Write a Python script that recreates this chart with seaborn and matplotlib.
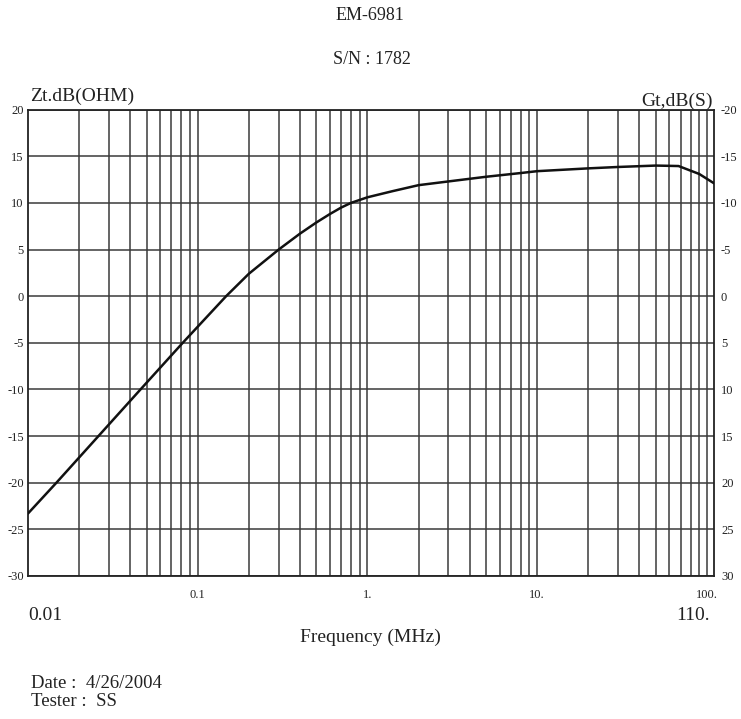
import matplotlib
matplotlib.use("Agg")
import matplotlib.pyplot as plt
import matplotlib.ticker as mticker
import numpy as np
import pandas as pd
import seaborn as sns

# ---- data ----
freq_mhz = [0.01, 0.0147, 0.026, 0.046, 0.0816, 0.147, 0.2, 0.3, 0.4, 0.5, 0.6,
            0.7, 0.8, 1.0, 1.4, 2.0, 3.0, 5.0, 8.0, 10.0, 20.0, 30.0, 50.0, 68.0,
            90.0, 110.0]
zt_db = [-23.3, -20.0, -15.0, -10.0, -5.0, 0.0, 2.4, 5.0, 6.7, 7.9, 8.8,
         9.5, 10.0, 10.6, 11.25, 11.9, 12.3, 12.8, 13.2, 13.4, 13.7, 13.85, 14.0, 13.95,
         13.1, 12.1]

zt_ticks = [20, 15, 10, 5, 0, -5, -10, -15, -20, -25, -30]
gt_ticks = [-20, -15, -10, -5, 0, 5, 10, 15, 20, 25, 30]
x_major = [0.1, 1, 10, 100]
x_major_labels = ["0.1", "1.", "10.", "100."]

df = pd.DataFrame({"freq": freq_mhz, "zt": zt_db})

sns.set_style("white")
plt.rcParams["font.family"] = ["Liberation Serif", "DejaVu Serif"]
plt.rcParams["axes.unicode_minus"] = False

W, H = 741, 719
fig = plt.figure(figsize=(W / 100, H / 100), dpi=100)
L, R, T, B = 28, 714, 109.6, 576
ax = fig.add_axes([L / W, 1 - B / H, (R - L) / W, (B - T) / H])

grid_col = "#3a3a3a"
sns.lineplot(data=df, x="freq", y="zt", ax=ax, color="#111111", linewidth=1.8, zorder=5)

ax.set_xscale("log")
ax.set_xlim(0.01, 110)
ax.set_ylim(-30, 20)
ax.set_xlabel("")
ax.set_ylabel("")

ax.xaxis.set_major_locator(mticker.FixedLocator(x_major))
ax.xaxis.set_major_formatter(mticker.FixedFormatter(x_major_labels))
ax.xaxis.set_minor_locator(mticker.LogLocator(base=10, subs=range(2, 10), numticks=20))
ax.xaxis.set_minor_formatter(mticker.NullFormatter())
ax.set_yticks(zt_ticks)
ax.set_yticklabels([str(v) for v in zt_ticks])

ax.grid(True, which="major", axis="both", color=grid_col, linewidth=1.1)
ax.grid(True, which="minor", axis="x", color=grid_col, linewidth=1.1)
ax.tick_params(axis="both", which="both", length=0)
ax.tick_params(axis="y", pad=3, labelsize=9, labelcolor="#222222")
ax.tick_params(axis="x", pad=9, labelsize=9, labelcolor="#222222")
for s in ax.spines.values():
    s.set_visible(True)
    s.set_color("#222222")
    s.set_linewidth(1.3)

ax2 = ax.twinx()
ax2.set_ylim(30, -20)
ax2.set_yticks(gt_ticks)
ax2.set_yticklabels([str(v) for v in gt_ticks])
ax2.tick_params(axis="y", length=0, pad=5, labelsize=9, labelcolor="#222222")
ax2.grid(False)
for s in ax2.spines.values():
    s.set_visible(False)

tc = "#222222"
def px(x, y):
    return x / W, 1 - y / H

fig.text(*px(370, 15), "EM-6981", ha="center", va="center", fontsize=13, color=tc)
fig.text(*px(372, 60), "S/N : 1782", ha="center", va="center", fontsize=13, color=tc)
fig.text(*px(30, 96), "Zt.dB(OHM)", ha="left", va="center", fontsize=14, color=tc)
fig.text(*px(713, 101), "Gt,dB(S)", ha="right", va="center", fontsize=14, color=tc)
fig.text(*px(28, 615), "0.01", ha="left", va="center", fontsize=14, color=tc)
fig.text(*px(710, 616), "110.", ha="right", va="center", fontsize=14, color=tc)
fig.text(*px(370, 637), "Frequency (MHz)", ha="center", va="center", fontsize=14, color=tc)
fig.text(*px(31, 683), "Date :  4/26/2004", ha="left", va="center", fontsize=13.5, color=tc)
fig.text(*px(31, 701), "Tester :  SS", ha="left", va="center", fontsize=13.5, color=tc)

fig.savefig("out.png", dpi=100, facecolor="white")
